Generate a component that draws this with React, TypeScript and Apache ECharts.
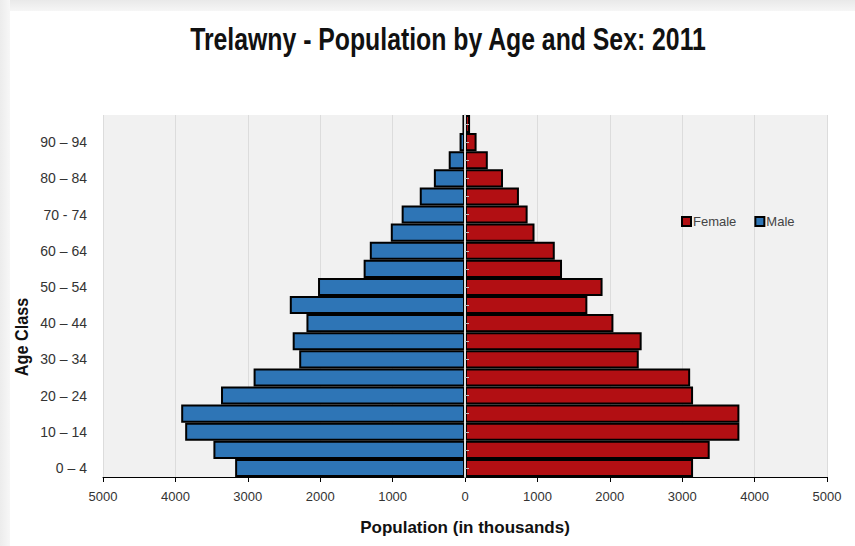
import React, { useEffect, useRef } from "react";
import * as echarts from "echarts";

const ageClasses = [
  "0 – 4", "5 – 9", "10 – 14", "15 – 19", "20 – 24", "25 – 29", "30 – 34", "35 – 39",
  "40 – 44", "45 – 49", "50 – 54", "55 – 59", "60 – 64", "65 – 69", "70 - 74", "75 – 79",
  "80 – 84", "85 – 89", "90 – 94", "95+",
];
const maleValues = [
  3175, 3475, 3865, 3920, 3370, 2920, 2290, 2380, 2190, 2420,
  2030, 1400, 1315, 1025, 875, 625, 430, 225, 75, 35,
];
const femaleValues = [
  3150, 3380, 3790, 3790, 3150, 3110, 2400, 2440, 2050, 1690,
  1900, 1340, 1240, 960, 865, 745, 525, 315, 160, 70,
];
const xTicks = [-5000, -4000, -3000, -2000, -1000, 0, 1000, 2000, 3000, 4000, 5000];

const FONT = "'Liberation Sans', Arial, sans-serif";
const BLUE = "#2E75B6";
const RED = "#B20F13";

export default function App() {
  const ref = useRef<HTMLDivElement>(null);
  useEffect(() => {
    if (!ref.current) return;
    const chart = echarts.init(ref.current, undefined, { renderer: "svg" });
    chart.setOption({
      animation: false,
      backgroundColor: "#ffffff",
      textStyle: { fontFamily: FONT },
      graphic: [
        {
          type: "rect",
          shape: { x: 0, y: 0, width: 855, height: 11 },
          style: {
            fill: new echarts.graphic.LinearGradient(0, 0, 0, 1, [
              { offset: 0, color: "#e9e9e9" },
              { offset: 1, color: "#f6f6f6" },
            ]),
          },
          z: -1,
        },
        {
          type: "rect",
          shape: { x: 0, y: 0, width: 10, height: 546 },
          style: {
            fill: new echarts.graphic.LinearGradient(0, 0, 1, 0, [
              { offset: 0, color: "#ececec" },
              { offset: 1, color: "#f7f7f7" },
            ]),
          },
          z: -1,
        },
        {
          type: "text",
          x: 448,
          y: 24,
          scaleX: 0.8,
          style: {
            text: "Trelawny - Population by Age and Sex: 2011",
            fontFamily: FONT,
            fontSize: 31,
            fontWeight: "bold",
            fill: "#111",
            align: "center",
            verticalAlign: "top",
          },
        },
        {
          type: "text",
          x: 13,
          y: 337,
          rotation: Math.PI / 2,
          scaleX: 0.9,
          style: {
            text: "Age Class",
            fontFamily: FONT,
            fontSize: 18,
            fontWeight: "bold",
            fill: "#111",
            align: "center",
            verticalAlign: "top",
          },
        },
      ],
      legend: {
        data: ["Female", "Male"],
        left: 676,
        top: 210,
        icon: "rect",
        itemWidth: 9,
        itemHeight: 9,
        itemGap: 18,
        itemStyle: { borderColor: "#000", borderWidth: 2 },
        textStyle: { fontFamily: FONT, fontSize: 13, color: "#444", padding: [0, 0, 0, -3] },
      },
      grid: {
        left: 103,
        right: 28,
        top: 115,
        bottom: 69,
        show: true,
        backgroundColor: "#f1f1f1",
        borderWidth: 0,
      },
      xAxis: {
        type: "value",
        min: -5000,
        max: 5000,
        interval: 1000,
        name: "Population (in thousands)",
        nameLocation: "middle",
        nameGap: 42,
        nameTextStyle: { fontFamily: FONT, fontSize: 17, fontWeight: "bold", color: "#111" },
        axisLine: { show: true, onZero: false, lineStyle: { color: "#000", width: 1 } },
        axisTick: { show: true, length: 5, lineStyle: { color: "#000" } },
        axisLabel: {
          margin: 13,
          fontFamily: FONT,
          fontSize: 13,
          color: "#333",
          formatter: (v: number) => (xTicks.includes(v) ? String(Math.abs(v)) : ""),
        },
        splitLine: { show: true, lineStyle: { color: "#dcdcdc", width: 1 } },
      },
      yAxis: [
        {
          type: "category",
          data: ageClasses,
          axisLine: { show: false, onZero: false },
          axisTick: { show: false },
          axisLabel: {
            interval: 1,
            margin: 16,
            fontFamily: FONT,
            fontSize: 14,
            color: "#333",
          },
          splitLine: { show: false },
        },
        {
          type: "category",
          data: ageClasses,
          position: "left",
          z: 10,
          axisLine: { show: true, onZero: true, lineStyle: { color: "#dedede", width: 2 } },
          axisTick: {
            show: true,
            inside: true,
            alignWithLabel: true,
            length: 4,
            lineStyle: { color: "#c0c0c0", width: 1 },
          },
          axisLabel: { show: false },
          splitLine: { show: false },
        },
      ],
      series: [
        {
          name: "Male",
          type: "bar",
          yAxisIndex: 0,
          data: maleValues.map((v) => -v),
          barCategoryGap: "0%",
          barGap: "-100%",
          itemStyle: { color: BLUE, borderColor: "#000", borderWidth: 2 },
        },
        {
          name: "Female",
          type: "bar",
          yAxisIndex: 0,
          data: femaleValues,
          barCategoryGap: "0%",
          barGap: "-100%",
          itemStyle: { color: RED, borderColor: "#000", borderWidth: 2 },
        },
      ],
    });
    return () => chart.dispose();
  }, []);
  return (
    <div
      ref={ref}
      style={{ position: "absolute", left: 0, top: 0, width: 855, height: 546 }}
    />
  );
}
